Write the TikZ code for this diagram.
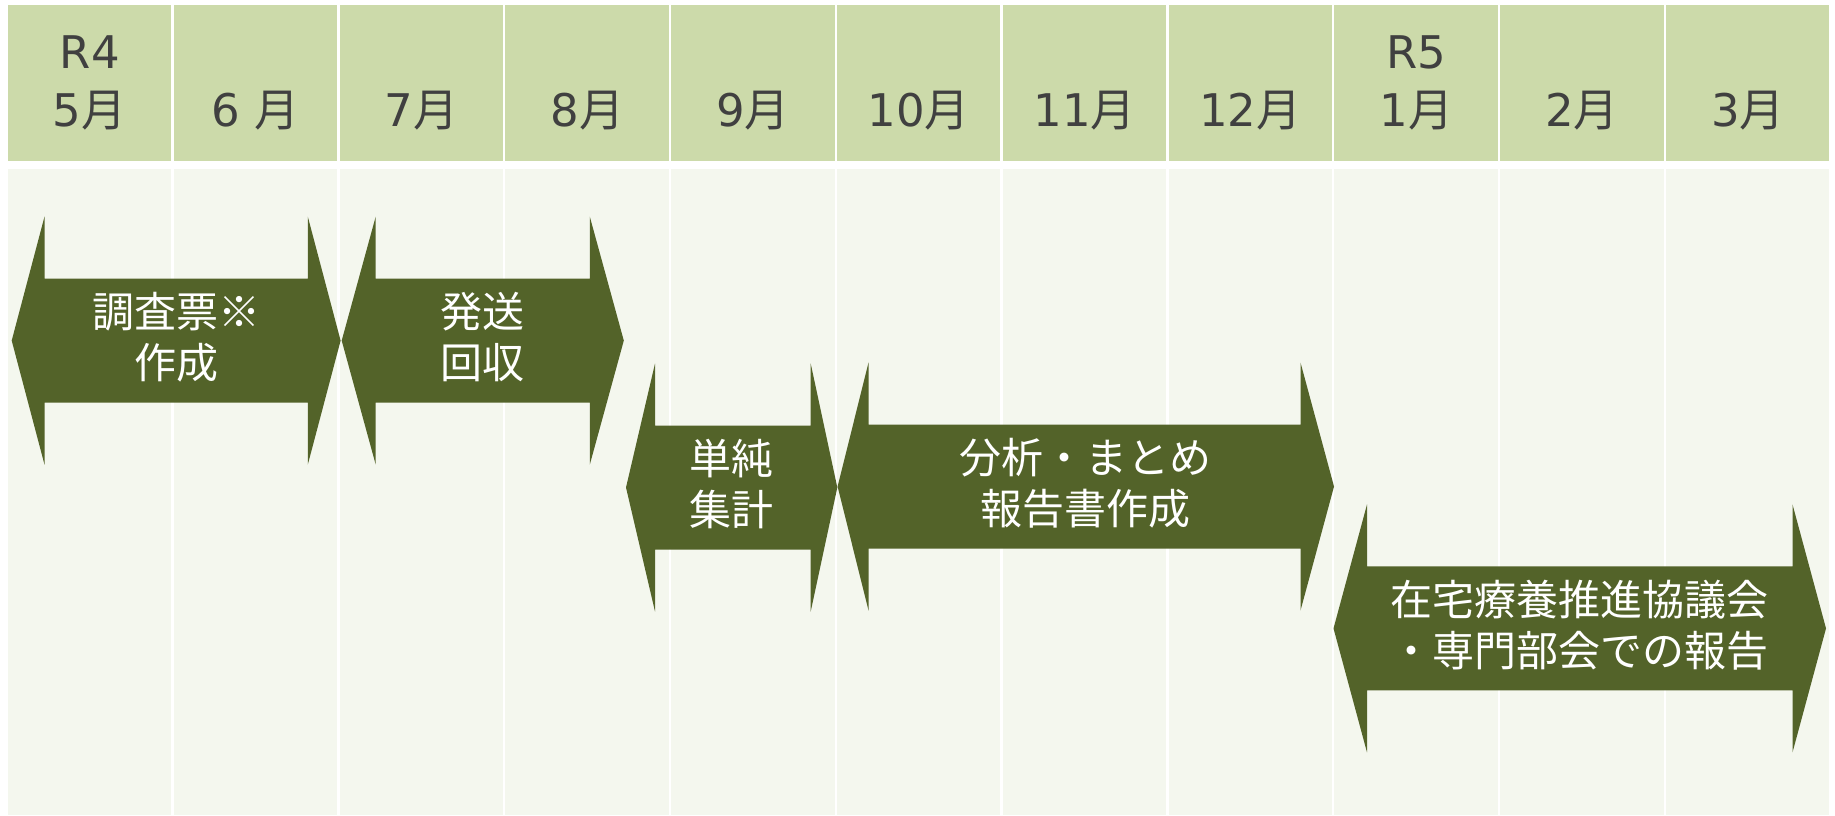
\documentclass[tikz,border=0pt]{standalone}
\usepackage{fontspec}
\setmainfont{Noto Sans CJK JP}
\newfontfamily\lat{DejaVu Sans}
\definecolor{hdrfill}{HTML}{CCDAAA}
\definecolor{bodyfill}{HTML}{F4F7EE}
\definecolor{arrowfill}{HTML}{536329}
\definecolor{hdrtext}{HTML}{404040}
\tikzset{
  hdrcell/.style={fill=hdrfill, draw=none},
  bodycell/.style={fill=bodyfill, draw=none},
  hdrlabel/.style={text=hdrtext, inner sep=0pt, anchor=base, font=\fontsize{45}{54}\selectfont},
  arrowshape/.style={fill=arrowfill, draw=none},
  arrowlabel/.style={text=white, inner sep=0pt, align=center, font=\fontsize{42}{51}\selectfont}
}
% #1 tipL, #2 baseL, #3 baseR, #4 tipR, #5 mid y, #6 name, #7 text
\newcommand\dblarrowshape[7]{%
  \fill[arrowshape] (#1,#5) -- (#2,#5-124) -- (#2,#5-62) -- (#3,#5-62) -- (#3,#5-124)
    -- (#4,#5) -- (#3,#5+124) -- (#3,#5+62) -- (#2,#5+62) -- (#2,#5+124) -- cycle;
  \node[arrowlabel] (#6) at ({(#1+#4)/2},#5-3.5) {#7};
}
\begin{document}
\begin{tikzpicture}[x=1pt,y=-1pt]
\useasboundingbox (0,0) rectangle (1835,815);
\fill[white] (0,0) rectangle (1835,815);
\foreach \i in {0,...,10} {
  \pgfmathsetmacro{\xa}{8+165.8*\i}
  \pgfmathsetmacro{\xb}{8+165.8*(\i+1)-2.4}
  \fill[hdrcell] (\xa,5) rectangle (\xb,161);
  \fill[bodycell] (\xa,169) rectangle (\xb,815);
}
% header labels
\node[hdrlabel] (r4) at (89.8,68) {\lat R4};
\node[hdrlabel] (m5) at (89.8,126) {{\lat 5}月};
\node[hdrlabel] (m6) at (255.6,126) {{\lat 6 }月};
\node[hdrlabel] (m7) at (421.4,126) {{\lat 7}月};
\node[hdrlabel] (m8) at (587.2,126) {{\lat 8}月};
\node[hdrlabel] (m9) at (753.0,126) {{\lat 9}月};
\node[hdrlabel] (m10) at (918.8,126) {{\lat 10}月};
\node[hdrlabel] (m11) at (1084.6,126) {{\lat 11}月};
\node[hdrlabel] (m12) at (1250.4,126) {{\lat 12}月};
\node[hdrlabel] (r5) at (1416.2,68) {\lat R5};
\node[hdrlabel] (m1) at (1416.2,126) {{\lat 1}月};
\node[hdrlabel] (m2) at (1582.0,126) {{\lat 2}月};
\node[hdrlabel] (m3) at (1747.8,126) {{\lat 3}月};
% arrows
\dblarrowshape{11.7}{44.5}{307.8}{340.6}{340.6}{a1}{調査票※\\作成}
\dblarrowshape{341.7}{375.7}{589.8}{623.8}{340.6}{a2}{発送\\回収}
\dblarrowshape{626}{655}{810.7}{837.3}{487.5}{a3}{単純\\集計}
\dblarrowshape{837.6}{868.5}{1300.5}{1334}{486.5}{a4}{分析・まとめ\\報告書作成}
\dblarrowshape{1333.5}{1367}{1792.5}{1826}{628.4}{a5}{在宅療養推進協議会\\・専門部会での報告}
\end{tikzpicture}
\end{document}
